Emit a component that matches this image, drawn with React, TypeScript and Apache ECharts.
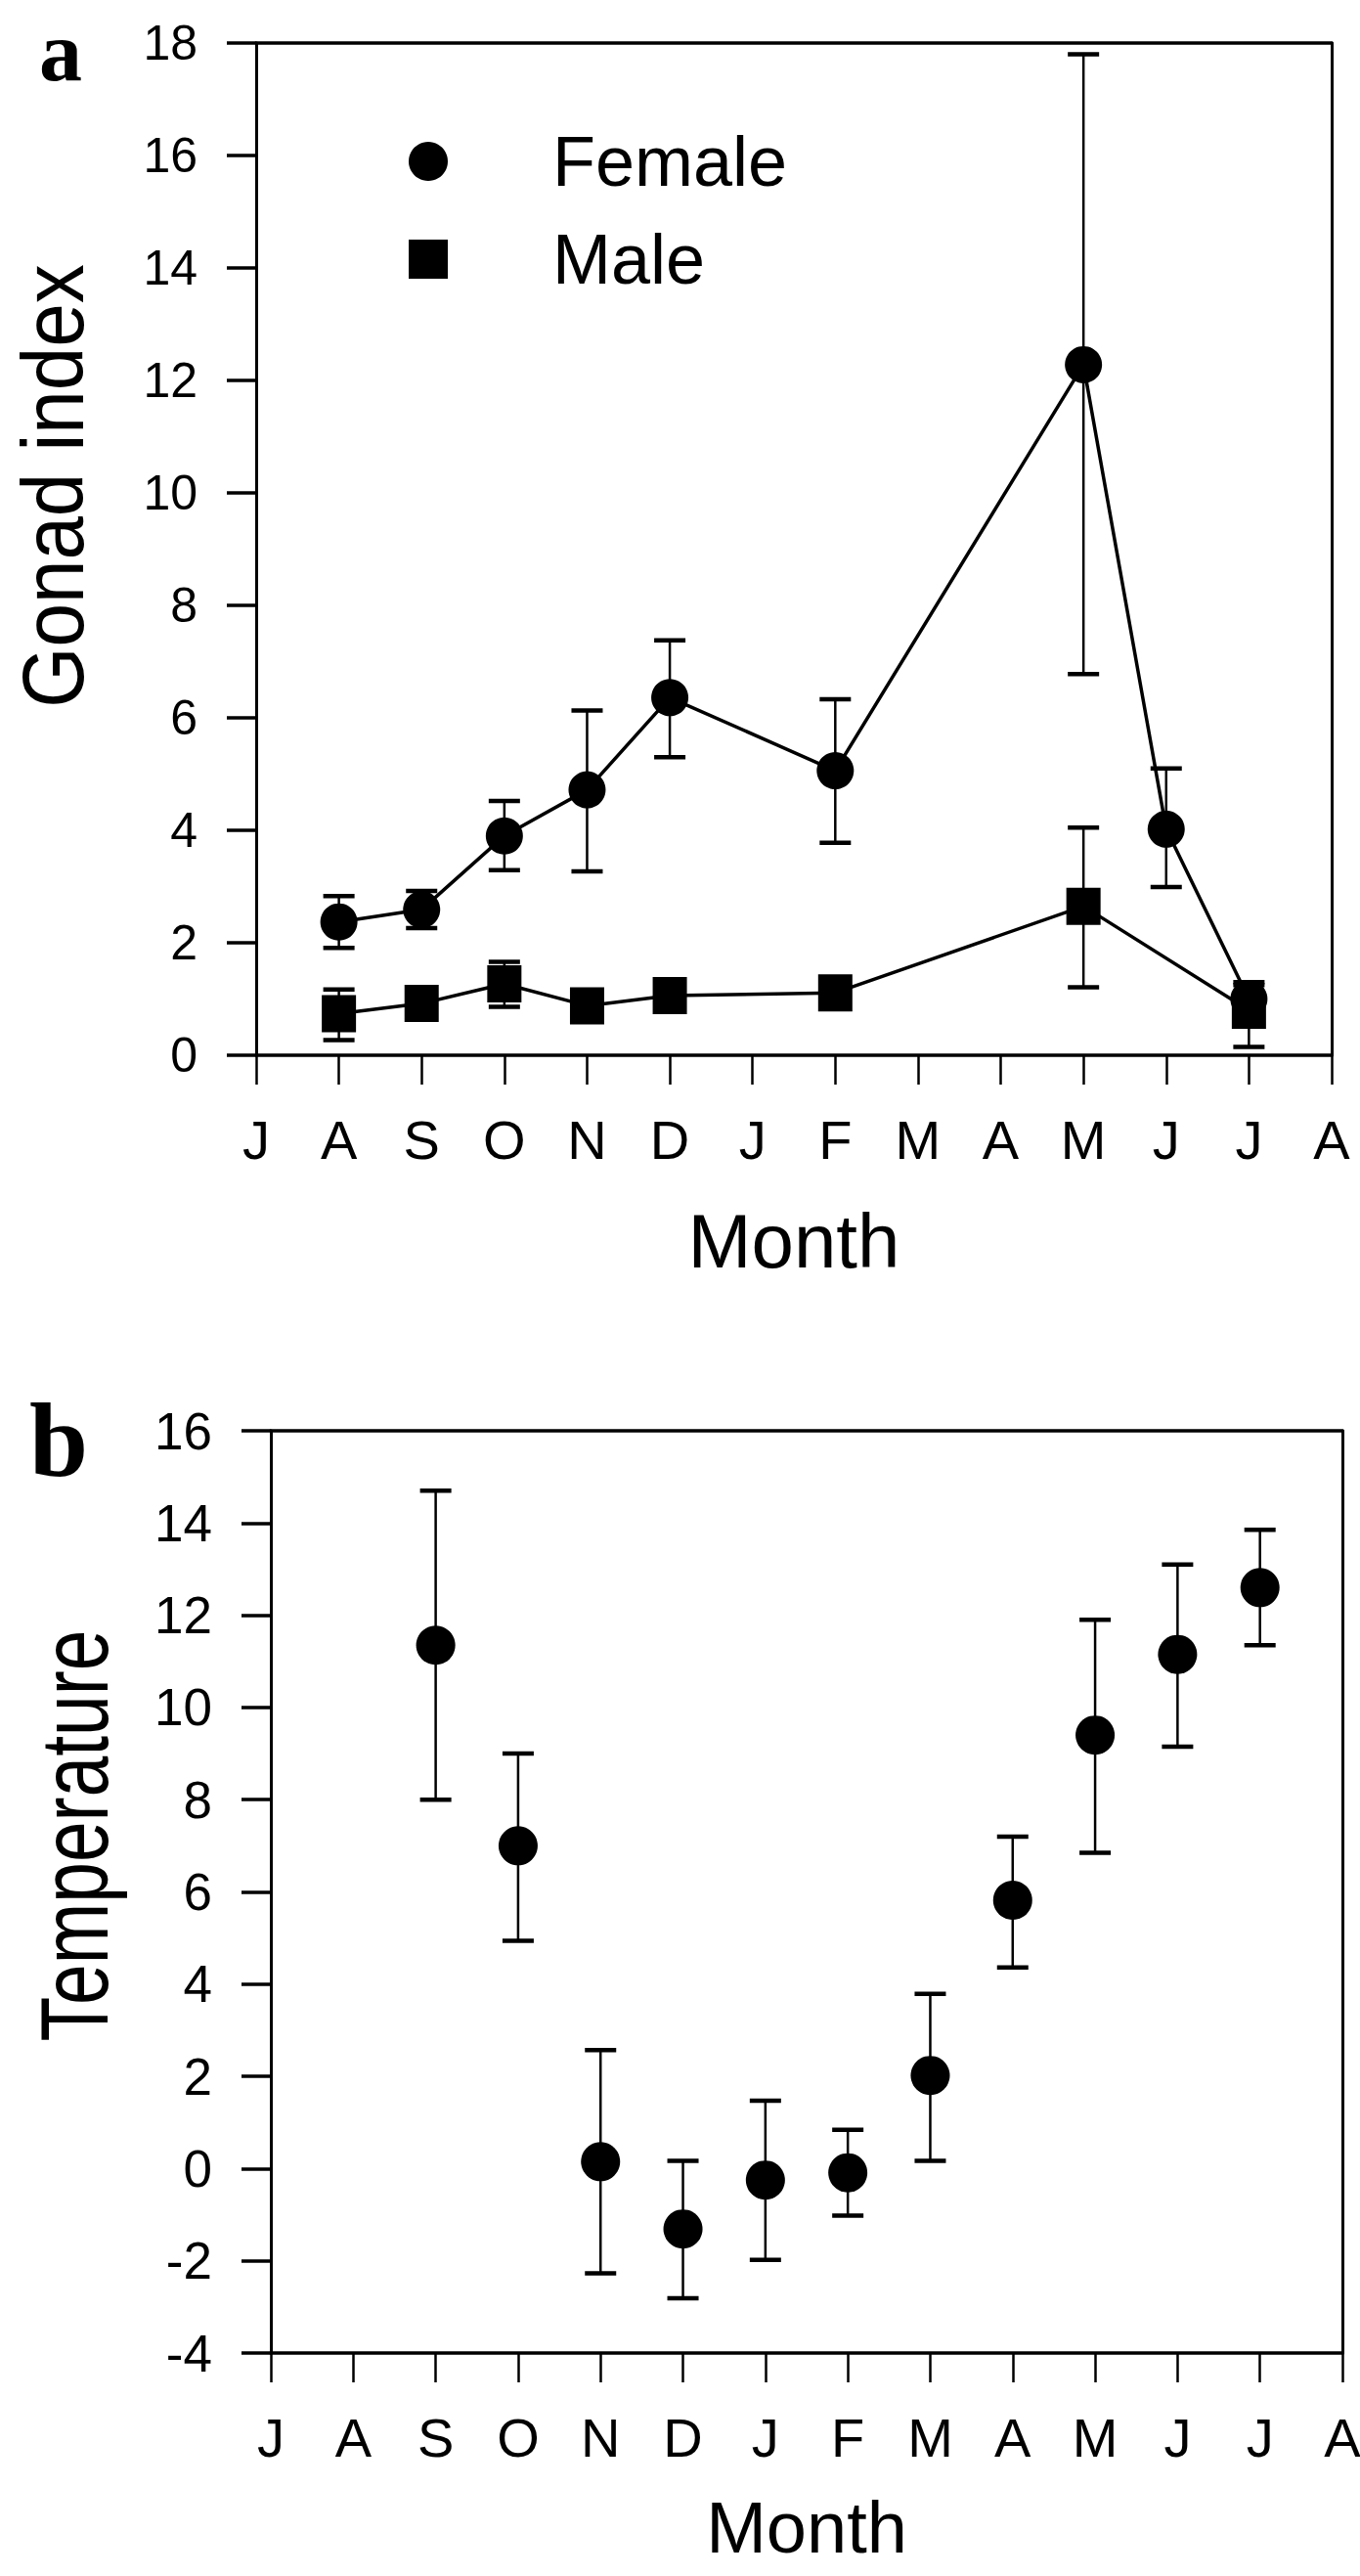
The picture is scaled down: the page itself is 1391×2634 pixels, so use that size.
import React, { useEffect, useRef } from "react";
import * as echarts from "echarts";

// ---------- data ----------
const monthLabels = ["J", "A", "S", "O", "N", "D", "J", "F", "M", "A", "M", "J", "J", "A"];

const femaleMonths = [1, 2, 3, 4, 5, 7, 10, 11, 12];
const femaleMean = [2.37, 2.59, 3.9, 4.72, 6.36, 5.06, 12.28, 4.02, 1.0];
const femaleHigh = [2.83, 2.92, 4.52, 6.13, 7.38, 6.33, 17.8, 5.1, 1.25];
const femaleLow = [1.91, 2.26, 3.29, 3.27, 5.3, 3.78, 6.78, 2.99, 0.75];

const maleMonths = [1, 2, 3, 4, 5, 7, 10, 12];
const maleMean = [0.74, 0.92, 1.27, 0.88, 1.06, 1.11, 2.65, 0.8];
const maleHigh = [1.17, 1.05, 1.66, 0.98, 1.15, 1.2, 4.05, 1.3];
const maleLow = [0.27, 0.79, 0.86, 0.78, 0.97, 1.0, 1.21, 0.15];

const tempMonths = [2, 3, 4, 5, 6, 7, 8, 9, 10, 11, 12];
const tempMean = [11.35, 7.0, 0.15, -1.31, -0.25, -0.09, 2.02, 5.82, 9.4, 11.15, 12.6];
const tempHigh = [14.7, 9.0, 2.57, 0.17, 1.47, 0.84, 3.79, 7.2, 11.9, 13.1, 13.85];
const tempLow = [8.0, 4.94, -2.27, -2.81, -1.98, -1.02, 0.17, 4.36, 6.85, 9.15, 11.35];

const FONT = "Liberation Sans, Arial, sans-serif";
const SERIF = "Liberation Serif, Times New Roman, serif";
const BLACK = "#000";

const pts = (xs: number[], ys: number[]) => xs.map((x, i) => [x, ys[i]]);
const errs = (xs: number[], hi: number[], lo: number[]) => xs.map((x, i) => [x, hi[i], lo[i]]);

const errorRender = (params: any, api: any) => {
  const x = api.value(0);
  const top = api.coord([x, api.value(1)]);
  const bot = api.coord([x, api.value(2)]);
  const hw = 16;
  const s = { stroke: BLACK, lineWidth: 2.5 };
  const c = { stroke: BLACK, lineWidth: 4.5 };
  return {
    type: "group",
    children: [
      { type: "line", shape: { x1: top[0], y1: top[1], x2: bot[0], y2: bot[1] }, style: s },
      { type: "line", shape: { x1: top[0] - hw, y1: top[1], x2: top[0] + hw, y2: top[1] }, style: c },
      { type: "line", shape: { x1: bot[0] - hw, y1: bot[1], x2: bot[0] + hw, y2: bot[1] }, style: c },
    ],
  };
};

const monthAxis = (gridIndex: number, name: string, nameGap: number, nameSize: number) => ({
  type: "value",
  gridIndex,
  position: "bottom",
  min: 0,
  max: 13,
  interval: 1,
  name,
  nameLocation: "middle",
  nameGap,
  nameMoveOverlap: false,
  nameTextStyle: { fontSize: nameSize, fontFamily: FONT, color: BLACK },
  axisLine: { show: true, onZero: false, lineStyle: { color: BLACK, width: 3.5 } },
  axisTick: { show: true, inside: false, length: 30, lineStyle: { color: BLACK, width: 2.5 } },
  axisLabel: {
    show: true,
    margin: 58,
    fontSize: 56,
    fontFamily: FONT,
    color: BLACK,
    formatter: (v: number) => monthLabels[v] ?? "",
  },
  splitLine: { show: false },
});

const topAxis = (gridIndex: number) => ({
  type: "value",
  gridIndex,
  position: "top",
  min: 0,
  max: 13,
  interval: 1,
  axisLine: { show: true, onZero: false, lineStyle: { color: BLACK, width: 3.5 } },
  axisTick: { show: false },
  axisLabel: { show: false },
  splitLine: { show: false },
});

const leftAxis = (gridIndex: number, min: number, max: number, fontSize: number) => ({
  type: "value",
  gridIndex,
  position: "left",
  min,
  max,
  interval: 2,
  axisLine: { show: true, onZero: false, lineStyle: { color: BLACK, width: 3 } },
  axisTick: { show: true, inside: false, length: 30, lineStyle: { color: BLACK, width: 3.5 } },
  axisLabel: { show: true, margin: 60, fontSize, fontFamily: FONT, color: BLACK },
  splitLine: { show: false },
});

const rightAxis = (gridIndex: number, min: number, max: number) => ({
  type: "value",
  gridIndex,
  position: "right",
  min,
  max,
  interval: 2,
  axisLine: { show: true, onZero: false, lineStyle: { color: BLACK, width: 3 } },
  axisTick: { show: false },
  axisLabel: { show: false },
  splitLine: { show: false },
});

export default function App() {
  const ref = useRef<HTMLDivElement>(null);

  useEffect(() => {
    document.body.style.margin = "0";
    if (!ref.current) return;
    const chart = echarts.init(ref.current, null, { renderer: "svg" });
    const option: any = {
      animation: false,
      backgroundColor: "#fff",
      textStyle: { fontFamily: FONT, color: BLACK },
      grid: [
        { left: 262, top: 44, width: 1100, height: 1035, outerBoundsMode: "none", containLabel: false },
        { left: 277, top: 1463, width: 1096, height: 943, outerBoundsMode: "none", containLabel: false },
      ],
      xAxis: [monthAxis(0, "Month", 151, 78), topAxis(0), monthAxis(1, "Month", 141, 74), topAxis(1)],
      yAxis: [leftAxis(0, 0, 18, 50), rightAxis(0, 0, 18), leftAxis(1, -4, 16, 53), rightAxis(1, -4, 16)],
      legend: {
        data: [
          { name: "Female", icon: "circle" },
          { name: "Male", icon: "rect" },
        ],
        orient: "vertical",
        left: 413,
        top: 124,
        itemWidth: 40,
        itemHeight: 40,
        itemGap: 28,
        selectedMode: false,
        textStyle: { fontSize: 72, fontFamily: FONT, color: BLACK, padding: [0, 0, 0, 102] },
      },
      graphic: [
        {
          type: "text",
          x: 40,
          y: 52,
          style: { text: "a", font: `bold 88px ${SERIF}`, fill: BLACK, textAlign: "left", textVerticalAlign: "middle" },
        },
        {
          type: "text",
          x: 30,
          y: 1472,
          style: { text: "b", font: `bold 108px ${SERIF}`, fill: BLACK, textAlign: "left", textVerticalAlign: "middle" },
        },
        {
          type: "text",
          x: 55,
          y: 497,
          rotation: Math.PI / 2,
          scaleY: 1.1,
          style: { text: "Gonad index", font: `80px ${FONT}`, fill: BLACK, textAlign: "center", textVerticalAlign: "middle" },
        },
        {
          type: "text",
          x: 76,
          y: 1877,
          rotation: Math.PI / 2,
          scaleY: 1.3,
          style: { text: "Temperature", font: `75px ${FONT}`, fill: BLACK, textAlign: "center", textVerticalAlign: "middle" },
        },
      ],
      series: [
        {
          type: "custom",
          name: "femaleErr",
          xAxisIndex: 0,
          yAxisIndex: 0,
          renderItem: errorRender,
          encode: { x: 0, y: [1, 2] },
          data: errs(femaleMonths, femaleHigh, femaleLow),
          clip: false,
          z: 1,
        },
        {
          type: "custom",
          name: "maleErr",
          xAxisIndex: 0,
          yAxisIndex: 0,
          renderItem: errorRender,
          encode: { x: 0, y: [1, 2] },
          data: errs(maleMonths, maleHigh, maleLow),
          clip: false,
          z: 1,
        },
        {
          type: "line",
          name: "Female",
          xAxisIndex: 0,
          yAxisIndex: 0,
          data: pts(femaleMonths, femaleMean),
          symbol: "circle",
          symbolSize: 38,
          showAllSymbol: true,
          color: BLACK,
          lineStyle: { color: BLACK, width: 3.5 },
          itemStyle: { color: BLACK, opacity: 1 },
          z: 3,
        },
        {
          type: "line",
          name: "Male",
          xAxisIndex: 0,
          yAxisIndex: 0,
          data: pts(maleMonths, maleMean),
          symbol: "rect",
          symbolSize: [35, 38],
          showAllSymbol: true,
          color: BLACK,
          lineStyle: { color: BLACK, width: 3.5 },
          itemStyle: { color: BLACK, opacity: 1 },
          z: 3,
        },
        {
          type: "custom",
          name: "tempErr",
          xAxisIndex: 2,
          yAxisIndex: 2,
          renderItem: errorRender,
          encode: { x: 0, y: [1, 2] },
          data: errs(tempMonths, tempHigh, tempLow),
          clip: false,
          z: 1,
        },
        {
          type: "scatter",
          name: "Temperature",
          xAxisIndex: 2,
          yAxisIndex: 2,
          data: pts(tempMonths, tempMean),
          symbol: "circle",
          symbolSize: 40,
          itemStyle: { color: BLACK, opacity: 1 },
          z: 3,
        },
      ],
    };
    chart.setOption(option);
    return () => chart.dispose();
  }, []);

  return <div ref={ref} style={{ width: 1391, height: 2634, position: "absolute", left: 0, top: 0 }} />;
}
